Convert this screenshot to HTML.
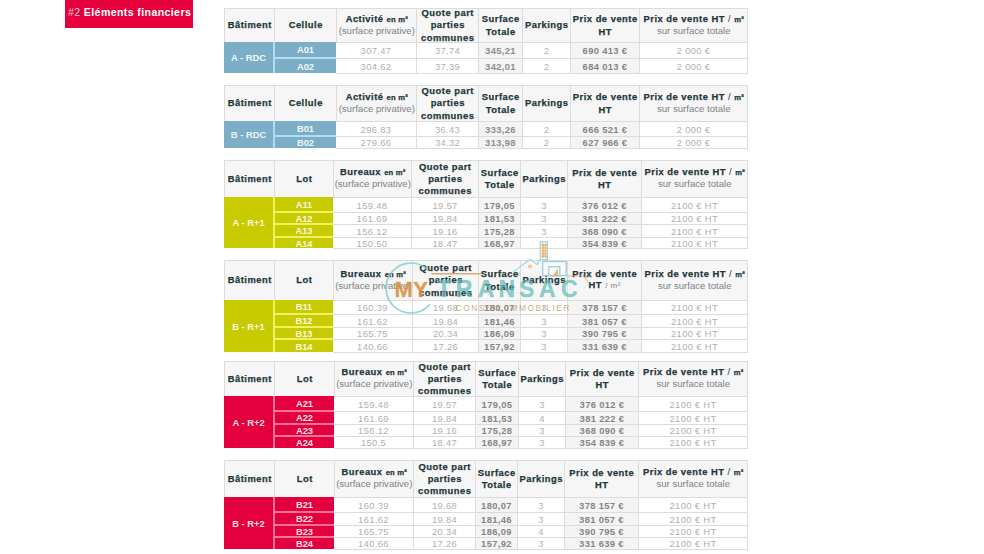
<!DOCTYPE html>
<html><head><meta charset="utf-8"><title>Eléments financiers</title>
<style>
*{margin:0;padding:0;box-sizing:border-box}
html,body{width:984px;height:554px;overflow:hidden;background:#fff}
body{position:relative;font-family:"Liberation Sans", Arial, sans-serif;}
body>div{position:absolute}
.h,.b,.d{display:flex;align-items:center;justify-content:center;text-align:center}
.hc{font-weight:bold;font-size:9.4px;line-height:12.1px;color:#1f373b;white-space:nowrap;letter-spacing:0.5px;padding-left:0.5px;-webkit-text-stroke:0.25px #1f373b}
.hc .sm{font-size:7.6px;letter-spacing:0.2px}
.hc .lt{font-weight:normal;color:#7d8385;font-size:9.6px;letter-spacing:0}
.hc .sl{font-weight:normal;-webkit-text-stroke:0}
.hc .l1{line-height:11.3px;height:11.3px;position:relative;top:-1.6px}
.hc .l2{-webkit-text-stroke:0;line-height:11.3px;height:11.3px;position:relative;top:-0.7px;font-weight:normal;color:#7d8385;font-size:9.6px;letter-spacing:0}
.hc .lt2{-webkit-text-stroke:0;font-weight:normal;color:#7a7f82;font-size:8px}
.bc{font-weight:bold;font-size:9.4px;color:rgba(255,255,255,0.9);white-space:nowrap;line-height:1;position:relative;top:0.6px}
.dc{font-size:9.4px;color:#b0b0b0;white-space:nowrap;line-height:1;letter-spacing:0.35px;position:relative;top:0.6px}
.db .dc{font-weight:bold;color:#858585}
.dm .dc{font-weight:bold;color:#8e8e8e}
.title{left:65.4px;top:0;width:128px;height:27.8px;background:#e6013d;color:#fff;font-size:10.6px;font-weight:bold;line-height:12px;padding:6px 0 0 2.6px;white-space:nowrap;letter-spacing:0.38px}
.wm{position:absolute;left:0;top:0;pointer-events:none}
.title .n{font-weight:normal;color:#f7c6d2}
</style></head><body>
<div class="title"><span class="n">#2</span> Eléments financiers</div>
<div style="left:224px;top:8px;width:524px;height:65px;background:#dcdcdc"></div>
<div style="left:225px;top:9px;width:49px;height:33px;background:#f6f6f6"></div>
<div style="left:275px;top:9px;width:61px;height:33px;background:#f6f6f6"></div>
<div style="left:337px;top:9px;width:79px;height:33px;background:#f6f6f6"></div>
<div style="left:417px;top:9px;width:61px;height:33px;background:#f6f6f6"></div>
<div style="left:479px;top:9px;width:43px;height:33px;background:#f6f6f6"></div>
<div style="left:523px;top:9px;width:47px;height:33px;background:#f6f6f6"></div>
<div style="left:571px;top:9px;width:68px;height:33px;background:#f6f6f6"></div>
<div style="left:640px;top:9px;width:107px;height:33px;background:#f6f6f6"></div>
<div style="left:336px;top:73px;width:412px;height:1px;background:#dcdcdc"></div>
<div style="left:224px;top:42px;width:49px;height:31px;background:#7cafc7"></div>
<div style="left:273px;top:42px;width:63px;height:31px;background:#b2dcef"></div>
<div style="left:275px;top:42px;width:61px;height:15px;background:#7cafc7"></div>
<div style="left:336px;top:43px;width:80px;height:15px;background:#fff"></div>
<div style="left:417px;top:43px;width:61px;height:15px;background:#fff"></div>
<div style="left:479px;top:43px;width:43px;height:15px;background:#f4f4f4"></div>
<div style="left:523px;top:43px;width:47px;height:15px;background:#fff"></div>
<div style="left:571px;top:43px;width:68px;height:15px;background:#f4f4f4"></div>
<div style="left:640px;top:43px;width:107px;height:15px;background:#fff"></div>
<div style="left:275px;top:59px;width:61px;height:14px;background:#7cafc7"></div>
<div style="left:336px;top:59px;width:80px;height:14px;background:#fff"></div>
<div style="left:417px;top:59px;width:61px;height:14px;background:#fff"></div>
<div style="left:479px;top:59px;width:43px;height:14px;background:#f4f4f4"></div>
<div style="left:523px;top:59px;width:47px;height:14px;background:#fff"></div>
<div style="left:571px;top:59px;width:68px;height:14px;background:#f4f4f4"></div>
<div style="left:640px;top:59px;width:107px;height:14px;background:#fff"></div>
<div style="left:224px;top:85px;width:524px;height:63px;background:#dcdcdc"></div>
<div style="left:225px;top:86px;width:49px;height:35px;background:#f6f6f6"></div>
<div style="left:275px;top:86px;width:61px;height:35px;background:#f6f6f6"></div>
<div style="left:337px;top:86px;width:79px;height:35px;background:#f6f6f6"></div>
<div style="left:417px;top:86px;width:61px;height:35px;background:#f6f6f6"></div>
<div style="left:479px;top:86px;width:43px;height:35px;background:#f6f6f6"></div>
<div style="left:523px;top:86px;width:47px;height:35px;background:#f6f6f6"></div>
<div style="left:571px;top:86px;width:68px;height:35px;background:#f6f6f6"></div>
<div style="left:640px;top:86px;width:107px;height:35px;background:#f6f6f6"></div>
<div style="left:336px;top:148px;width:412px;height:1px;background:#dcdcdc"></div>
<div style="left:224px;top:121px;width:49px;height:27px;background:#7cafc7"></div>
<div style="left:273px;top:121px;width:63px;height:27px;background:#b2dcef"></div>
<div style="left:275px;top:121px;width:61px;height:14px;background:#7cafc7"></div>
<div style="left:336px;top:122px;width:80px;height:14px;background:#fff"></div>
<div style="left:417px;top:122px;width:61px;height:14px;background:#fff"></div>
<div style="left:479px;top:122px;width:43px;height:14px;background:#f4f4f4"></div>
<div style="left:523px;top:122px;width:47px;height:14px;background:#fff"></div>
<div style="left:571px;top:122px;width:68px;height:14px;background:#f4f4f4"></div>
<div style="left:640px;top:122px;width:107px;height:14px;background:#fff"></div>
<div style="left:275px;top:137px;width:61px;height:11px;background:#7cafc7"></div>
<div style="left:336px;top:137px;width:80px;height:11px;background:#fff"></div>
<div style="left:417px;top:137px;width:61px;height:11px;background:#fff"></div>
<div style="left:479px;top:137px;width:43px;height:11px;background:#f4f4f4"></div>
<div style="left:523px;top:137px;width:47px;height:11px;background:#fff"></div>
<div style="left:571px;top:137px;width:68px;height:11px;background:#f4f4f4"></div>
<div style="left:640px;top:137px;width:107px;height:11px;background:#fff"></div>
<div style="left:224px;top:160px;width:524px;height:88px;background:#dcdcdc"></div>
<div style="left:225px;top:161px;width:49px;height:36px;background:#f6f6f6"></div>
<div style="left:275px;top:161px;width:58px;height:36px;background:#f6f6f6"></div>
<div style="left:334px;top:161px;width:77px;height:36px;background:#f6f6f6"></div>
<div style="left:412px;top:161px;width:66px;height:36px;background:#f6f6f6"></div>
<div style="left:479px;top:161px;width:41px;height:36px;background:#f6f6f6"></div>
<div style="left:521px;top:161px;width:46px;height:36px;background:#f6f6f6"></div>
<div style="left:568px;top:161px;width:73px;height:36px;background:#f6f6f6"></div>
<div style="left:642px;top:161px;width:105px;height:36px;background:#f6f6f6"></div>
<div style="left:333px;top:248px;width:415px;height:1px;background:#dcdcdc"></div>
<div style="left:224px;top:197px;width:49px;height:51px;background:#c8cb00"></div>
<div style="left:273px;top:197px;width:60px;height:51px;background:#eef25e"></div>
<div style="left:275px;top:197px;width:58px;height:14px;background:#c8cb00"></div>
<div style="left:333px;top:198px;width:78px;height:14px;background:#fff"></div>
<div style="left:412px;top:198px;width:66px;height:14px;background:#fff"></div>
<div style="left:479px;top:198px;width:41px;height:14px;background:#f4f4f4"></div>
<div style="left:521px;top:198px;width:46px;height:14px;background:#fff"></div>
<div style="left:568px;top:198px;width:73px;height:14px;background:#f4f4f4"></div>
<div style="left:642px;top:198px;width:105px;height:14px;background:#fff"></div>
<div style="left:275px;top:213px;width:58px;height:10px;background:#c8cb00"></div>
<div style="left:333px;top:213px;width:78px;height:11px;background:#fff"></div>
<div style="left:412px;top:213px;width:66px;height:11px;background:#fff"></div>
<div style="left:479px;top:213px;width:41px;height:11px;background:#f4f4f4"></div>
<div style="left:521px;top:213px;width:46px;height:11px;background:#fff"></div>
<div style="left:568px;top:213px;width:73px;height:11px;background:#f4f4f4"></div>
<div style="left:642px;top:213px;width:105px;height:11px;background:#fff"></div>
<div style="left:275px;top:225px;width:58px;height:11px;background:#c8cb00"></div>
<div style="left:333px;top:225px;width:78px;height:12px;background:#fff"></div>
<div style="left:412px;top:225px;width:66px;height:12px;background:#fff"></div>
<div style="left:479px;top:225px;width:41px;height:12px;background:#f4f4f4"></div>
<div style="left:521px;top:225px;width:46px;height:12px;background:#fff"></div>
<div style="left:568px;top:225px;width:73px;height:12px;background:#f4f4f4"></div>
<div style="left:642px;top:225px;width:105px;height:12px;background:#fff"></div>
<div style="left:275px;top:238px;width:58px;height:10px;background:#c8cb00"></div>
<div style="left:333px;top:238px;width:78px;height:10px;background:#fff"></div>
<div style="left:412px;top:238px;width:66px;height:10px;background:#fff"></div>
<div style="left:479px;top:238px;width:41px;height:10px;background:#f4f4f4"></div>
<div style="left:521px;top:238px;width:46px;height:10px;background:#fff"></div>
<div style="left:568px;top:238px;width:73px;height:10px;background:#f4f4f4"></div>
<div style="left:642px;top:238px;width:105px;height:10px;background:#fff"></div>
<div style="left:224px;top:260px;width:524px;height:92px;background:#dcdcdc"></div>
<div style="left:225px;top:261px;width:49px;height:39px;background:#f6f6f6"></div>
<div style="left:275px;top:261px;width:58px;height:39px;background:#f6f6f6"></div>
<div style="left:334px;top:261px;width:78px;height:39px;background:#f6f6f6"></div>
<div style="left:413px;top:261px;width:65px;height:39px;background:#f6f6f6"></div>
<div style="left:479px;top:261px;width:41px;height:39px;background:#f6f6f6"></div>
<div style="left:521px;top:261px;width:46px;height:39px;background:#f6f6f6"></div>
<div style="left:568px;top:261px;width:73px;height:39px;background:#f6f6f6"></div>
<div style="left:642px;top:261px;width:105px;height:39px;background:#f6f6f6"></div>
<div style="left:333px;top:352px;width:415px;height:1px;background:#dcdcdc"></div>
<div style="left:224px;top:300px;width:49px;height:52px;background:#c8cb00"></div>
<div style="left:273px;top:300px;width:60px;height:52px;background:#eef25e"></div>
<div style="left:275px;top:300px;width:58px;height:13px;background:#c8cb00"></div>
<div style="left:333px;top:301px;width:79px;height:13px;background:#fff"></div>
<div style="left:413px;top:301px;width:65px;height:13px;background:#fff"></div>
<div style="left:479px;top:301px;width:41px;height:13px;background:#f4f4f4"></div>
<div style="left:521px;top:301px;width:46px;height:13px;background:#fff"></div>
<div style="left:568px;top:301px;width:73px;height:13px;background:#f4f4f4"></div>
<div style="left:642px;top:301px;width:105px;height:13px;background:#fff"></div>
<div style="left:275px;top:315px;width:58px;height:11px;background:#c8cb00"></div>
<div style="left:333px;top:315px;width:79px;height:12px;background:#fff"></div>
<div style="left:413px;top:315px;width:65px;height:12px;background:#fff"></div>
<div style="left:479px;top:315px;width:41px;height:12px;background:#f4f4f4"></div>
<div style="left:521px;top:315px;width:46px;height:12px;background:#fff"></div>
<div style="left:568px;top:315px;width:73px;height:12px;background:#f4f4f4"></div>
<div style="left:642px;top:315px;width:105px;height:12px;background:#fff"></div>
<div style="left:275px;top:328px;width:58px;height:10px;background:#c8cb00"></div>
<div style="left:333px;top:328px;width:79px;height:11px;background:#fff"></div>
<div style="left:413px;top:328px;width:65px;height:11px;background:#fff"></div>
<div style="left:479px;top:328px;width:41px;height:11px;background:#f4f4f4"></div>
<div style="left:521px;top:328px;width:46px;height:11px;background:#fff"></div>
<div style="left:568px;top:328px;width:73px;height:11px;background:#f4f4f4"></div>
<div style="left:642px;top:328px;width:105px;height:11px;background:#fff"></div>
<div style="left:275px;top:340px;width:58px;height:12px;background:#c8cb00"></div>
<div style="left:333px;top:340px;width:79px;height:12px;background:#fff"></div>
<div style="left:413px;top:340px;width:65px;height:12px;background:#fff"></div>
<div style="left:479px;top:340px;width:41px;height:12px;background:#f4f4f4"></div>
<div style="left:521px;top:340px;width:46px;height:12px;background:#fff"></div>
<div style="left:568px;top:340px;width:73px;height:12px;background:#f4f4f4"></div>
<div style="left:642px;top:340px;width:105px;height:12px;background:#fff"></div>
<div style="left:224px;top:361px;width:524px;height:87px;background:#dcdcdc"></div>
<div style="left:225px;top:362px;width:49px;height:34px;background:#f6f6f6"></div>
<div style="left:275px;top:362px;width:59px;height:34px;background:#f6f6f6"></div>
<div style="left:335px;top:362px;width:78px;height:34px;background:#f6f6f6"></div>
<div style="left:414px;top:362px;width:61px;height:34px;background:#f6f6f6"></div>
<div style="left:476px;top:362px;width:42px;height:34px;background:#f6f6f6"></div>
<div style="left:519px;top:362px;width:46px;height:34px;background:#f6f6f6"></div>
<div style="left:566px;top:362px;width:72px;height:34px;background:#f6f6f6"></div>
<div style="left:639px;top:362px;width:108px;height:34px;background:#f6f6f6"></div>
<div style="left:334px;top:448px;width:414px;height:1px;background:#dcdcdc"></div>
<div style="left:224px;top:396px;width:49px;height:52px;background:#e3003c"></div>
<div style="left:273px;top:396px;width:61px;height:52px;background:#f4749a"></div>
<div style="left:275px;top:396px;width:59px;height:14px;background:#e3003c"></div>
<div style="left:334px;top:397px;width:79px;height:14px;background:#fff"></div>
<div style="left:414px;top:397px;width:61px;height:14px;background:#fff"></div>
<div style="left:476px;top:397px;width:42px;height:14px;background:#f4f4f4"></div>
<div style="left:519px;top:397px;width:46px;height:14px;background:#fff"></div>
<div style="left:566px;top:397px;width:72px;height:14px;background:#f4f4f4"></div>
<div style="left:639px;top:397px;width:108px;height:14px;background:#fff"></div>
<div style="left:275px;top:412px;width:59px;height:11px;background:#e3003c"></div>
<div style="left:334px;top:412px;width:79px;height:12px;background:#fff"></div>
<div style="left:414px;top:412px;width:61px;height:12px;background:#fff"></div>
<div style="left:476px;top:412px;width:42px;height:12px;background:#f4f4f4"></div>
<div style="left:519px;top:412px;width:46px;height:12px;background:#fff"></div>
<div style="left:566px;top:412px;width:72px;height:12px;background:#f4f4f4"></div>
<div style="left:639px;top:412px;width:108px;height:12px;background:#fff"></div>
<div style="left:275px;top:425px;width:59px;height:10px;background:#e3003c"></div>
<div style="left:334px;top:425px;width:79px;height:11px;background:#fff"></div>
<div style="left:414px;top:425px;width:61px;height:11px;background:#fff"></div>
<div style="left:476px;top:425px;width:42px;height:11px;background:#f4f4f4"></div>
<div style="left:519px;top:425px;width:46px;height:11px;background:#fff"></div>
<div style="left:566px;top:425px;width:72px;height:11px;background:#f4f4f4"></div>
<div style="left:639px;top:425px;width:108px;height:11px;background:#fff"></div>
<div style="left:275px;top:437px;width:59px;height:11px;background:#e3003c"></div>
<div style="left:334px;top:437px;width:79px;height:11px;background:#fff"></div>
<div style="left:414px;top:437px;width:61px;height:11px;background:#fff"></div>
<div style="left:476px;top:437px;width:42px;height:11px;background:#f4f4f4"></div>
<div style="left:519px;top:437px;width:46px;height:11px;background:#fff"></div>
<div style="left:566px;top:437px;width:72px;height:11px;background:#f4f4f4"></div>
<div style="left:639px;top:437px;width:108px;height:11px;background:#fff"></div>
<div style="left:224px;top:460px;width:524px;height:89px;background:#dcdcdc"></div>
<div style="left:225px;top:461px;width:49px;height:36px;background:#f6f6f6"></div>
<div style="left:275px;top:461px;width:59px;height:36px;background:#f6f6f6"></div>
<div style="left:335px;top:461px;width:78px;height:36px;background:#f6f6f6"></div>
<div style="left:414px;top:461px;width:61px;height:36px;background:#f6f6f6"></div>
<div style="left:476px;top:461px;width:41px;height:36px;background:#f6f6f6"></div>
<div style="left:518px;top:461px;width:46px;height:36px;background:#f6f6f6"></div>
<div style="left:565px;top:461px;width:73px;height:36px;background:#f6f6f6"></div>
<div style="left:639px;top:461px;width:108px;height:36px;background:#f6f6f6"></div>
<div style="left:334px;top:549px;width:414px;height:1px;background:#dcdcdc"></div>
<div style="left:224px;top:497px;width:49px;height:52px;background:#e3003c"></div>
<div style="left:273px;top:497px;width:61px;height:52px;background:#f4749a"></div>
<div style="left:275px;top:497px;width:59px;height:14px;background:#e3003c"></div>
<div style="left:334px;top:498px;width:79px;height:14px;background:#fff"></div>
<div style="left:414px;top:498px;width:61px;height:14px;background:#fff"></div>
<div style="left:476px;top:498px;width:41px;height:14px;background:#f4f4f4"></div>
<div style="left:518px;top:498px;width:46px;height:14px;background:#fff"></div>
<div style="left:565px;top:498px;width:73px;height:14px;background:#f4f4f4"></div>
<div style="left:639px;top:498px;width:108px;height:14px;background:#fff"></div>
<div style="left:275px;top:513px;width:59px;height:11px;background:#e3003c"></div>
<div style="left:334px;top:513px;width:79px;height:12px;background:#fff"></div>
<div style="left:414px;top:513px;width:61px;height:12px;background:#fff"></div>
<div style="left:476px;top:513px;width:41px;height:12px;background:#f4f4f4"></div>
<div style="left:518px;top:513px;width:46px;height:12px;background:#fff"></div>
<div style="left:565px;top:513px;width:73px;height:12px;background:#f4f4f4"></div>
<div style="left:639px;top:513px;width:108px;height:12px;background:#fff"></div>
<div style="left:275px;top:526px;width:59px;height:10px;background:#e3003c"></div>
<div style="left:334px;top:526px;width:79px;height:11px;background:#fff"></div>
<div style="left:414px;top:526px;width:61px;height:11px;background:#fff"></div>
<div style="left:476px;top:526px;width:41px;height:11px;background:#f4f4f4"></div>
<div style="left:518px;top:526px;width:46px;height:11px;background:#fff"></div>
<div style="left:565px;top:526px;width:73px;height:11px;background:#f4f4f4"></div>
<div style="left:639px;top:526px;width:108px;height:11px;background:#fff"></div>
<div style="left:275px;top:538px;width:59px;height:11px;background:#e3003c"></div>
<div style="left:334px;top:538px;width:79px;height:11px;background:#fff"></div>
<div style="left:414px;top:538px;width:61px;height:11px;background:#fff"></div>
<div style="left:476px;top:538px;width:41px;height:11px;background:#f4f4f4"></div>
<div style="left:518px;top:538px;width:46px;height:11px;background:#fff"></div>
<div style="left:565px;top:538px;width:73px;height:11px;background:#f4f4f4"></div>
<div style="left:639px;top:538px;width:108px;height:11px;background:#fff"></div>
<div class="h" style="left:225px;top:9px;width:49px;height:33px"><div class="hc">Bâtiment</div></div>
<div class="h" style="left:275px;top:9px;width:61px;height:33px"><div class="hc">Cellule</div></div>
<div class="h" style="left:337px;top:9px;width:79px;height:33px"><div class="hc"><div class="l1">Activité <span class="sm">en m²</span></div><div class="l2">(surface privative)</div></div></div>
<div class="h" style="left:417px;top:9px;width:61px;height:33px"><div class="hc">Quote part<br>parties<br>communes</div></div>
<div class="h" style="left:479px;top:9px;width:43px;height:33px"><div class="hc">Surface<br>Totale</div></div>
<div class="h" style="left:523px;top:9px;width:47px;height:33px"><div class="hc">Parkings</div></div>
<div class="h" style="left:571px;top:9px;width:68px;height:33px"><div class="hc">Prix de vente<br>HT</div></div>
<div class="h" style="left:640px;top:9px;width:107px;height:33px"><div class="hc"><div class="l1">Prix de vente HT <span class="sl">/</span> <span class="sm">m²</span></div><div class="l2">sur surface totale</div></div></div>
<div class="b" style="left:224px;top:42px;width:49px;height:31px"><div class="bc">A - RDC</div></div>
<div class="b" style="left:275px;top:42px;width:61px;height:15px"><div class="bc">A01</div></div>
<div class="d" style="left:336px;top:43px;width:80px;height:15px"><div class="dc">307.47</div></div>
<div class="d" style="left:417px;top:43px;width:61px;height:15px"><div class="dc">37.74</div></div>
<div class="d dm" style="left:479px;top:43px;width:43px;height:15px"><div class="dc">345,21</div></div>
<div class="d" style="left:523px;top:43px;width:47px;height:15px"><div class="dc">2</div></div>
<div class="d db" style="left:571px;top:43px;width:68px;height:15px"><div class="dc">690 413 €</div></div>
<div class="d" style="left:640px;top:43px;width:107px;height:15px"><div class="dc">2 000 €</div></div>
<div class="b" style="left:275px;top:59px;width:61px;height:14px"><div class="bc">A02</div></div>
<div class="d" style="left:336px;top:59px;width:80px;height:14px"><div class="dc">304.62</div></div>
<div class="d" style="left:417px;top:59px;width:61px;height:14px"><div class="dc">37.39</div></div>
<div class="d dm" style="left:479px;top:59px;width:43px;height:14px"><div class="dc">342,01</div></div>
<div class="d" style="left:523px;top:59px;width:47px;height:14px"><div class="dc">2</div></div>
<div class="d db" style="left:571px;top:59px;width:68px;height:14px"><div class="dc">684 013 €</div></div>
<div class="d" style="left:640px;top:59px;width:107px;height:14px"><div class="dc">2 000 €</div></div>
<div class="h" style="left:225px;top:86px;width:49px;height:35px"><div class="hc">Bâtiment</div></div>
<div class="h" style="left:275px;top:86px;width:61px;height:35px"><div class="hc">Cellule</div></div>
<div class="h" style="left:337px;top:86px;width:79px;height:35px"><div class="hc"><div class="l1">Activité <span class="sm">en m²</span></div><div class="l2">(surface privative)</div></div></div>
<div class="h" style="left:417px;top:86px;width:61px;height:35px"><div class="hc">Quote part<br>parties<br>communes</div></div>
<div class="h" style="left:479px;top:86px;width:43px;height:35px"><div class="hc">Surface<br>Totale</div></div>
<div class="h" style="left:523px;top:86px;width:47px;height:35px"><div class="hc">Parkings</div></div>
<div class="h" style="left:571px;top:86px;width:68px;height:35px"><div class="hc">Prix de vente<br>HT</div></div>
<div class="h" style="left:640px;top:86px;width:107px;height:35px"><div class="hc"><div class="l1">Prix de vente HT <span class="sl">/</span> <span class="sm">m²</span></div><div class="l2">sur surface totale</div></div></div>
<div class="b" style="left:224px;top:121px;width:49px;height:27px"><div class="bc">B - RDC</div></div>
<div class="b" style="left:275px;top:121px;width:61px;height:14px"><div class="bc">B01</div></div>
<div class="d" style="left:336px;top:122px;width:80px;height:14px"><div class="dc">296.83</div></div>
<div class="d" style="left:417px;top:122px;width:61px;height:14px"><div class="dc">36.43</div></div>
<div class="d dm" style="left:479px;top:122px;width:43px;height:14px"><div class="dc">333,26</div></div>
<div class="d" style="left:523px;top:122px;width:47px;height:14px"><div class="dc">2</div></div>
<div class="d db" style="left:571px;top:122px;width:68px;height:14px"><div class="dc">666 521 €</div></div>
<div class="d" style="left:640px;top:122px;width:107px;height:14px"><div class="dc">2 000 €</div></div>
<div class="b" style="left:275px;top:137px;width:61px;height:11px"><div class="bc">B02</div></div>
<div class="d" style="left:336px;top:137px;width:80px;height:11px"><div class="dc">279.66</div></div>
<div class="d" style="left:417px;top:137px;width:61px;height:11px"><div class="dc">34.32</div></div>
<div class="d dm" style="left:479px;top:137px;width:43px;height:11px"><div class="dc">313,98</div></div>
<div class="d" style="left:523px;top:137px;width:47px;height:11px"><div class="dc">2</div></div>
<div class="d db" style="left:571px;top:137px;width:68px;height:11px"><div class="dc">627 966 €</div></div>
<div class="d" style="left:640px;top:137px;width:107px;height:11px"><div class="dc">2 000 €</div></div>
<div class="h" style="left:225px;top:161px;width:49px;height:36px"><div class="hc">Bâtiment</div></div>
<div class="h" style="left:275px;top:161px;width:58px;height:36px"><div class="hc">Lot</div></div>
<div class="h" style="left:334px;top:161px;width:77px;height:36px"><div class="hc"><div class="l1">Bureaux <span class="sm">en m²</span></div><div class="l2">(surface privative)</div></div></div>
<div class="h" style="left:412px;top:161px;width:66px;height:36px"><div class="hc">Quote part<br>parties<br>communes</div></div>
<div class="h" style="left:479px;top:161px;width:41px;height:36px"><div class="hc">Surface<br>Totale</div></div>
<div class="h" style="left:521px;top:161px;width:46px;height:36px"><div class="hc">Parkings</div></div>
<div class="h" style="left:568px;top:161px;width:73px;height:36px"><div class="hc">Prix de vente<br>HT</div></div>
<div class="h" style="left:642px;top:161px;width:105px;height:36px"><div class="hc"><div class="l1">Prix de vente HT <span class="sl">/</span> <span class="sm">m²</span></div><div class="l2">sur surface totale</div></div></div>
<div class="b" style="left:224px;top:197px;width:49px;height:51px"><div class="bc">A - R+1</div></div>
<div class="b" style="left:275px;top:197px;width:58px;height:14px"><div class="bc">A11</div></div>
<div class="d" style="left:333px;top:198px;width:78px;height:14px"><div class="dc">159.48</div></div>
<div class="d" style="left:412px;top:198px;width:66px;height:14px"><div class="dc">19.57</div></div>
<div class="d db" style="left:479px;top:198px;width:41px;height:14px"><div class="dc">179,05</div></div>
<div class="d" style="left:521px;top:198px;width:46px;height:14px"><div class="dc">3</div></div>
<div class="d db" style="left:568px;top:198px;width:73px;height:14px"><div class="dc">376 012 €</div></div>
<div class="d" style="left:642px;top:198px;width:105px;height:14px"><div class="dc">2100 € HT</div></div>
<div class="b" style="left:275px;top:213px;width:58px;height:10px"><div class="bc">A12</div></div>
<div class="d" style="left:333px;top:213px;width:78px;height:11px"><div class="dc">161.69</div></div>
<div class="d" style="left:412px;top:213px;width:66px;height:11px"><div class="dc">19.84</div></div>
<div class="d db" style="left:479px;top:213px;width:41px;height:11px"><div class="dc">181,53</div></div>
<div class="d" style="left:521px;top:213px;width:46px;height:11px"><div class="dc">3</div></div>
<div class="d db" style="left:568px;top:213px;width:73px;height:11px"><div class="dc">381 222 €</div></div>
<div class="d" style="left:642px;top:213px;width:105px;height:11px"><div class="dc">2100 € HT</div></div>
<div class="b" style="left:275px;top:225px;width:58px;height:11px"><div class="bc">A13</div></div>
<div class="d" style="left:333px;top:225px;width:78px;height:12px"><div class="dc">156.12</div></div>
<div class="d" style="left:412px;top:225px;width:66px;height:12px"><div class="dc">19.16</div></div>
<div class="d db" style="left:479px;top:225px;width:41px;height:12px"><div class="dc">175,28</div></div>
<div class="d" style="left:521px;top:225px;width:46px;height:12px"><div class="dc">3</div></div>
<div class="d db" style="left:568px;top:225px;width:73px;height:12px"><div class="dc">368 090 €</div></div>
<div class="d" style="left:642px;top:225px;width:105px;height:12px"><div class="dc">2100 € HT</div></div>
<div class="b" style="left:275px;top:238px;width:58px;height:10px"><div class="bc">A14</div></div>
<div class="d" style="left:333px;top:238px;width:78px;height:10px"><div class="dc">150.50</div></div>
<div class="d" style="left:412px;top:238px;width:66px;height:10px"><div class="dc">18.47</div></div>
<div class="d db" style="left:479px;top:238px;width:41px;height:10px"><div class="dc">168,97</div></div>
<div class="d db" style="left:568px;top:238px;width:73px;height:10px"><div class="dc">354 839 €</div></div>
<div class="d" style="left:642px;top:238px;width:105px;height:10px"><div class="dc">2100 € HT</div></div>
<div class="h" style="left:225px;top:261px;width:49px;height:39px"><div class="hc">Bâtiment</div></div>
<div class="h" style="left:275px;top:261px;width:58px;height:39px"><div class="hc">Lot</div></div>
<div class="h" style="left:334px;top:261px;width:78px;height:39px"><div class="hc"><div class="l1">Bureaux <span class="sm">en m²</span></div><div class="l2">(surface privative)</div></div></div>
<div class="h" style="left:413px;top:261px;width:65px;height:39px"><div class="hc">Quote part<br>parties<br>communes</div></div>
<div class="h" style="left:479px;top:261px;width:41px;height:39px"><div class="hc">Surface<br>Totale</div></div>
<div class="h" style="left:521px;top:261px;width:46px;height:39px"><div class="hc">Parkings</div></div>
<div class="h" style="left:568px;top:261px;width:73px;height:39px"><div class="hc"><div class="l1">Prix de vente</div><div class="l1">HT <span class="lt2">/ m²</span></div></div></div>
<div class="h" style="left:642px;top:261px;width:105px;height:39px"><div class="hc"><div class="l1">Prix de vente HT <span class="sl">/</span> <span class="sm">m²</span></div><div class="l2">sur surface totale</div></div></div>
<div class="b" style="left:224px;top:300px;width:49px;height:52px"><div class="bc">B - R+1</div></div>
<div class="b" style="left:275px;top:300px;width:58px;height:13px"><div class="bc">B11</div></div>
<div class="d" style="left:333px;top:301px;width:79px;height:13px"><div class="dc">160.39</div></div>
<div class="d" style="left:413px;top:301px;width:65px;height:13px"><div class="dc">19.68</div></div>
<div class="d db" style="left:479px;top:301px;width:41px;height:13px"><div class="dc">180,07</div></div>
<div class="d" style="left:521px;top:301px;width:46px;height:13px"><div class="dc">3</div></div>
<div class="d db" style="left:568px;top:301px;width:73px;height:13px"><div class="dc">378 157 €</div></div>
<div class="d" style="left:642px;top:301px;width:105px;height:13px"><div class="dc">2100 € HT</div></div>
<div class="b" style="left:275px;top:315px;width:58px;height:11px"><div class="bc">B12</div></div>
<div class="d" style="left:333px;top:315px;width:79px;height:12px"><div class="dc">161.62</div></div>
<div class="d" style="left:413px;top:315px;width:65px;height:12px"><div class="dc">19.84</div></div>
<div class="d db" style="left:479px;top:315px;width:41px;height:12px"><div class="dc">181,46</div></div>
<div class="d" style="left:521px;top:315px;width:46px;height:12px"><div class="dc">3</div></div>
<div class="d db" style="left:568px;top:315px;width:73px;height:12px"><div class="dc">381 057 €</div></div>
<div class="d" style="left:642px;top:315px;width:105px;height:12px"><div class="dc">2100 € HT</div></div>
<div class="b" style="left:275px;top:328px;width:58px;height:10px"><div class="bc">B13</div></div>
<div class="d" style="left:333px;top:328px;width:79px;height:11px"><div class="dc">165.75</div></div>
<div class="d" style="left:413px;top:328px;width:65px;height:11px"><div class="dc">20.34</div></div>
<div class="d db" style="left:479px;top:328px;width:41px;height:11px"><div class="dc">186,09</div></div>
<div class="d" style="left:521px;top:328px;width:46px;height:11px"><div class="dc">3</div></div>
<div class="d db" style="left:568px;top:328px;width:73px;height:11px"><div class="dc">390 795 €</div></div>
<div class="d" style="left:642px;top:328px;width:105px;height:11px"><div class="dc">2100 € HT</div></div>
<div class="b" style="left:275px;top:340px;width:58px;height:12px"><div class="bc">B14</div></div>
<div class="d" style="left:333px;top:340px;width:79px;height:12px"><div class="dc">140.66</div></div>
<div class="d" style="left:413px;top:340px;width:65px;height:12px"><div class="dc">17.26</div></div>
<div class="d db" style="left:479px;top:340px;width:41px;height:12px"><div class="dc">157,92</div></div>
<div class="d" style="left:521px;top:340px;width:46px;height:12px"><div class="dc">3</div></div>
<div class="d db" style="left:568px;top:340px;width:73px;height:12px"><div class="dc">331 639 €</div></div>
<div class="d" style="left:642px;top:340px;width:105px;height:12px"><div class="dc">2100 € HT</div></div>
<div class="h" style="left:225px;top:362px;width:49px;height:34px"><div class="hc">Bâtiment</div></div>
<div class="h" style="left:275px;top:362px;width:59px;height:34px"><div class="hc">Lot</div></div>
<div class="h" style="left:335px;top:362px;width:78px;height:34px"><div class="hc"><div class="l1">Bureaux <span class="sm">en m²</span></div><div class="l2">(surface privative)</div></div></div>
<div class="h" style="left:414px;top:362px;width:61px;height:34px"><div class="hc">Quote part<br>parties<br>communes</div></div>
<div class="h" style="left:476px;top:362px;width:42px;height:34px"><div class="hc">Surface<br>Totale</div></div>
<div class="h" style="left:519px;top:362px;width:46px;height:34px"><div class="hc">Parkings</div></div>
<div class="h" style="left:566px;top:362px;width:72px;height:34px"><div class="hc">Prix de vente<br>HT</div></div>
<div class="h" style="left:639px;top:362px;width:108px;height:34px"><div class="hc"><div class="l1">Prix de vente HT <span class="sl">/</span> <span class="sm">m²</span></div><div class="l2">sur surface totale</div></div></div>
<div class="b" style="left:224px;top:396px;width:49px;height:52px"><div class="bc">A - R+2</div></div>
<div class="b" style="left:275px;top:396px;width:59px;height:14px"><div class="bc">A21</div></div>
<div class="d" style="left:334px;top:397px;width:79px;height:14px"><div class="dc">159.48</div></div>
<div class="d" style="left:414px;top:397px;width:61px;height:14px"><div class="dc">19.57</div></div>
<div class="d db" style="left:476px;top:397px;width:42px;height:14px"><div class="dc">179,05</div></div>
<div class="d" style="left:519px;top:397px;width:46px;height:14px"><div class="dc">3</div></div>
<div class="d db" style="left:566px;top:397px;width:72px;height:14px"><div class="dc">376 012 €</div></div>
<div class="d" style="left:639px;top:397px;width:108px;height:14px"><div class="dc">2100 € HT</div></div>
<div class="b" style="left:275px;top:412px;width:59px;height:11px"><div class="bc">A22</div></div>
<div class="d" style="left:334px;top:412px;width:79px;height:12px"><div class="dc">161.69</div></div>
<div class="d" style="left:414px;top:412px;width:61px;height:12px"><div class="dc">19.84</div></div>
<div class="d db" style="left:476px;top:412px;width:42px;height:12px"><div class="dc">181,53</div></div>
<div class="d" style="left:519px;top:412px;width:46px;height:12px"><div class="dc">4</div></div>
<div class="d db" style="left:566px;top:412px;width:72px;height:12px"><div class="dc">381 222 €</div></div>
<div class="d" style="left:639px;top:412px;width:108px;height:12px"><div class="dc">2100 € HT</div></div>
<div class="b" style="left:275px;top:425px;width:59px;height:10px"><div class="bc">A23</div></div>
<div class="d" style="left:334px;top:425px;width:79px;height:11px"><div class="dc">156.12</div></div>
<div class="d" style="left:414px;top:425px;width:61px;height:11px"><div class="dc">19.16</div></div>
<div class="d db" style="left:476px;top:425px;width:42px;height:11px"><div class="dc">175,28</div></div>
<div class="d" style="left:519px;top:425px;width:46px;height:11px"><div class="dc">3</div></div>
<div class="d db" style="left:566px;top:425px;width:72px;height:11px"><div class="dc">368 090 €</div></div>
<div class="d" style="left:639px;top:425px;width:108px;height:11px"><div class="dc">2100 € HT</div></div>
<div class="b" style="left:275px;top:437px;width:59px;height:11px"><div class="bc">A24</div></div>
<div class="d" style="left:334px;top:437px;width:79px;height:11px"><div class="dc">150.5</div></div>
<div class="d" style="left:414px;top:437px;width:61px;height:11px"><div class="dc">18.47</div></div>
<div class="d db" style="left:476px;top:437px;width:42px;height:11px"><div class="dc">168,97</div></div>
<div class="d" style="left:519px;top:437px;width:46px;height:11px"><div class="dc">3</div></div>
<div class="d db" style="left:566px;top:437px;width:72px;height:11px"><div class="dc">354 839 €</div></div>
<div class="d" style="left:639px;top:437px;width:108px;height:11px"><div class="dc">2100 € HT</div></div>
<div class="h" style="left:225px;top:461px;width:49px;height:36px"><div class="hc">Bâtiment</div></div>
<div class="h" style="left:275px;top:461px;width:59px;height:36px"><div class="hc">Lot</div></div>
<div class="h" style="left:335px;top:461px;width:78px;height:36px"><div class="hc"><div class="l1">Bureaux <span class="sm">en m²</span></div><div class="l2">(surface privative)</div></div></div>
<div class="h" style="left:414px;top:461px;width:61px;height:36px"><div class="hc">Quote part<br>parties<br>communes</div></div>
<div class="h" style="left:476px;top:461px;width:41px;height:36px"><div class="hc">Surface<br>Totale</div></div>
<div class="h" style="left:518px;top:461px;width:46px;height:36px"><div class="hc">Parkings</div></div>
<div class="h" style="left:565px;top:461px;width:73px;height:36px"><div class="hc">Prix de vente<br>HT</div></div>
<div class="h" style="left:639px;top:461px;width:108px;height:36px"><div class="hc"><div class="l1">Prix de vente HT <span class="sl">/</span> <span class="sm">m²</span></div><div class="l2">sur surface totale</div></div></div>
<div class="b" style="left:224px;top:497px;width:49px;height:52px"><div class="bc">B - R+2</div></div>
<div class="b" style="left:275px;top:497px;width:59px;height:14px"><div class="bc">B21</div></div>
<div class="d" style="left:334px;top:498px;width:79px;height:14px"><div class="dc">160.39</div></div>
<div class="d" style="left:414px;top:498px;width:61px;height:14px"><div class="dc">19.68</div></div>
<div class="d db" style="left:476px;top:498px;width:41px;height:14px"><div class="dc">180,07</div></div>
<div class="d" style="left:518px;top:498px;width:46px;height:14px"><div class="dc">3</div></div>
<div class="d db" style="left:565px;top:498px;width:73px;height:14px"><div class="dc">378 157 €</div></div>
<div class="d" style="left:639px;top:498px;width:108px;height:14px"><div class="dc">2100 € HT</div></div>
<div class="b" style="left:275px;top:513px;width:59px;height:11px"><div class="bc">B22</div></div>
<div class="d" style="left:334px;top:513px;width:79px;height:12px"><div class="dc">161.62</div></div>
<div class="d" style="left:414px;top:513px;width:61px;height:12px"><div class="dc">19.84</div></div>
<div class="d db" style="left:476px;top:513px;width:41px;height:12px"><div class="dc">181,46</div></div>
<div class="d" style="left:518px;top:513px;width:46px;height:12px"><div class="dc">3</div></div>
<div class="d db" style="left:565px;top:513px;width:73px;height:12px"><div class="dc">381 057 €</div></div>
<div class="d" style="left:639px;top:513px;width:108px;height:12px"><div class="dc">2100 € HT</div></div>
<div class="b" style="left:275px;top:526px;width:59px;height:10px"><div class="bc">B23</div></div>
<div class="d" style="left:334px;top:526px;width:79px;height:11px"><div class="dc">165.75</div></div>
<div class="d" style="left:414px;top:526px;width:61px;height:11px"><div class="dc">20.34</div></div>
<div class="d db" style="left:476px;top:526px;width:41px;height:11px"><div class="dc">186,09</div></div>
<div class="d" style="left:518px;top:526px;width:46px;height:11px"><div class="dc">4</div></div>
<div class="d db" style="left:565px;top:526px;width:73px;height:11px"><div class="dc">390 795 €</div></div>
<div class="d" style="left:639px;top:526px;width:108px;height:11px"><div class="dc">2100 € HT</div></div>
<div class="b" style="left:275px;top:538px;width:59px;height:11px"><div class="bc">B24</div></div>
<div class="d" style="left:334px;top:538px;width:79px;height:11px"><div class="dc">140.66</div></div>
<div class="d" style="left:414px;top:538px;width:61px;height:11px"><div class="dc">17.26</div></div>
<div class="d db" style="left:476px;top:538px;width:41px;height:11px"><div class="dc">157,92</div></div>
<div class="d" style="left:518px;top:538px;width:46px;height:11px"><div class="dc">3</div></div>
<div class="d db" style="left:565px;top:538px;width:73px;height:11px"><div class="dc">331 639 €</div></div>
<div class="d" style="left:639px;top:538px;width:108px;height:11px"><div class="dc">2100 € HT</div></div>

<svg class="wm" width="984" height="554" viewBox="0 0 984 554">
<g fill="none" stroke-linejoin="miter">
<path d="M427.6 269.3 A25 25 0 1 0 429.9 304.4" stroke="#86cfcf" stroke-width="1.7" opacity="0.85"/>
<path d="M431.5 273.8 H481" stroke="#d9a468" stroke-width="1.4" opacity="0.9"/>
<path d="M566.5 276 H583.4 L589.5 283" stroke="#d9a468" stroke-width="1.1" opacity="0.7"/>
<path d="M513 272.1 L530.1 259.2 L537.3 264.6 L539.6 260" stroke="#98d2da" stroke-width="1.1" opacity="0.9"/>
<rect x="540.2" y="241.9" width="7.2" height="17.8" fill="#fff" stroke="#98d2da" stroke-width="1.2"/>
<rect x="542.7" y="261.6" width="23.5" height="14" fill="#fff" fill-opacity="0.5" stroke="#98d2da" stroke-width="1.3"/>
<rect x="548.8" y="266.7" width="11" height="9" stroke="#98d2da" stroke-width="1.3"/>
</g>
<g fill="#eaa95a">
<rect x="541.7" y="243.6" width="2.2" height="2.4"/><rect x="544.3" y="243.6" width="2.2" height="2.4"/>
<rect x="541.7" y="246.5" width="2.2" height="2.4"/><rect x="544.3" y="246.5" width="2.2" height="2.4"/>
<rect x="541.7" y="249.4" width="2.2" height="2.4"/><rect x="544.3" y="249.4" width="2.2" height="2.4"/>
<rect x="541.7" y="252.3" width="2.2" height="2.4"/><rect x="544.3" y="252.3" width="2.2" height="2.4"/>
<rect x="541.7" y="255.2" width="2.2" height="2.4"/><rect x="544.3" y="255.2" width="2.2" height="2.4"/>
<rect x="528.3" y="264.9" width="1.6" height="1.4" opacity="0.8"/><rect x="530.3" y="264.9" width="1.6" height="1.4" opacity="0.8"/><rect x="528.3" y="266.6" width="1.6" height="1.4" opacity="0.8"/><rect x="530.3" y="266.6" width="1.6" height="1.4" opacity="0.8"/>
<path d="M553.5 276 V273.5 H555 V271.5 H556.5 V269.5 H558 V276 Z" opacity="0.85"/>
</g>
<text y="297" font-family="'Liberation Sans', Arial, sans-serif" font-weight="bold" font-size="23" text-anchor="middle"><tspan x="403.6 420.6" y="296.8" font-size="22" fill="#d8913e" fill-opacity="0.9" stroke="#d8913e" stroke-opacity="0.5" stroke-width="0.5">MY</tspan><tspan x="444 464 486 506.7 526.6 547.2 569.2" y="297" fill="#5cb9b6" fill-opacity="0.7" stroke="#5cb9b6" stroke-opacity="0.4" stroke-width="0.6">TRANSAC</tspan></text>
<text x="455.7" y="310.5" font-family="'Liberation Sans', Arial, sans-serif" font-size="8.4" fill="#b8935c" opacity="0.72" textLength="113.8" lengthAdjust="spacing">CONSEIL IMMOBILIER</text>
</svg>
</body></html>
